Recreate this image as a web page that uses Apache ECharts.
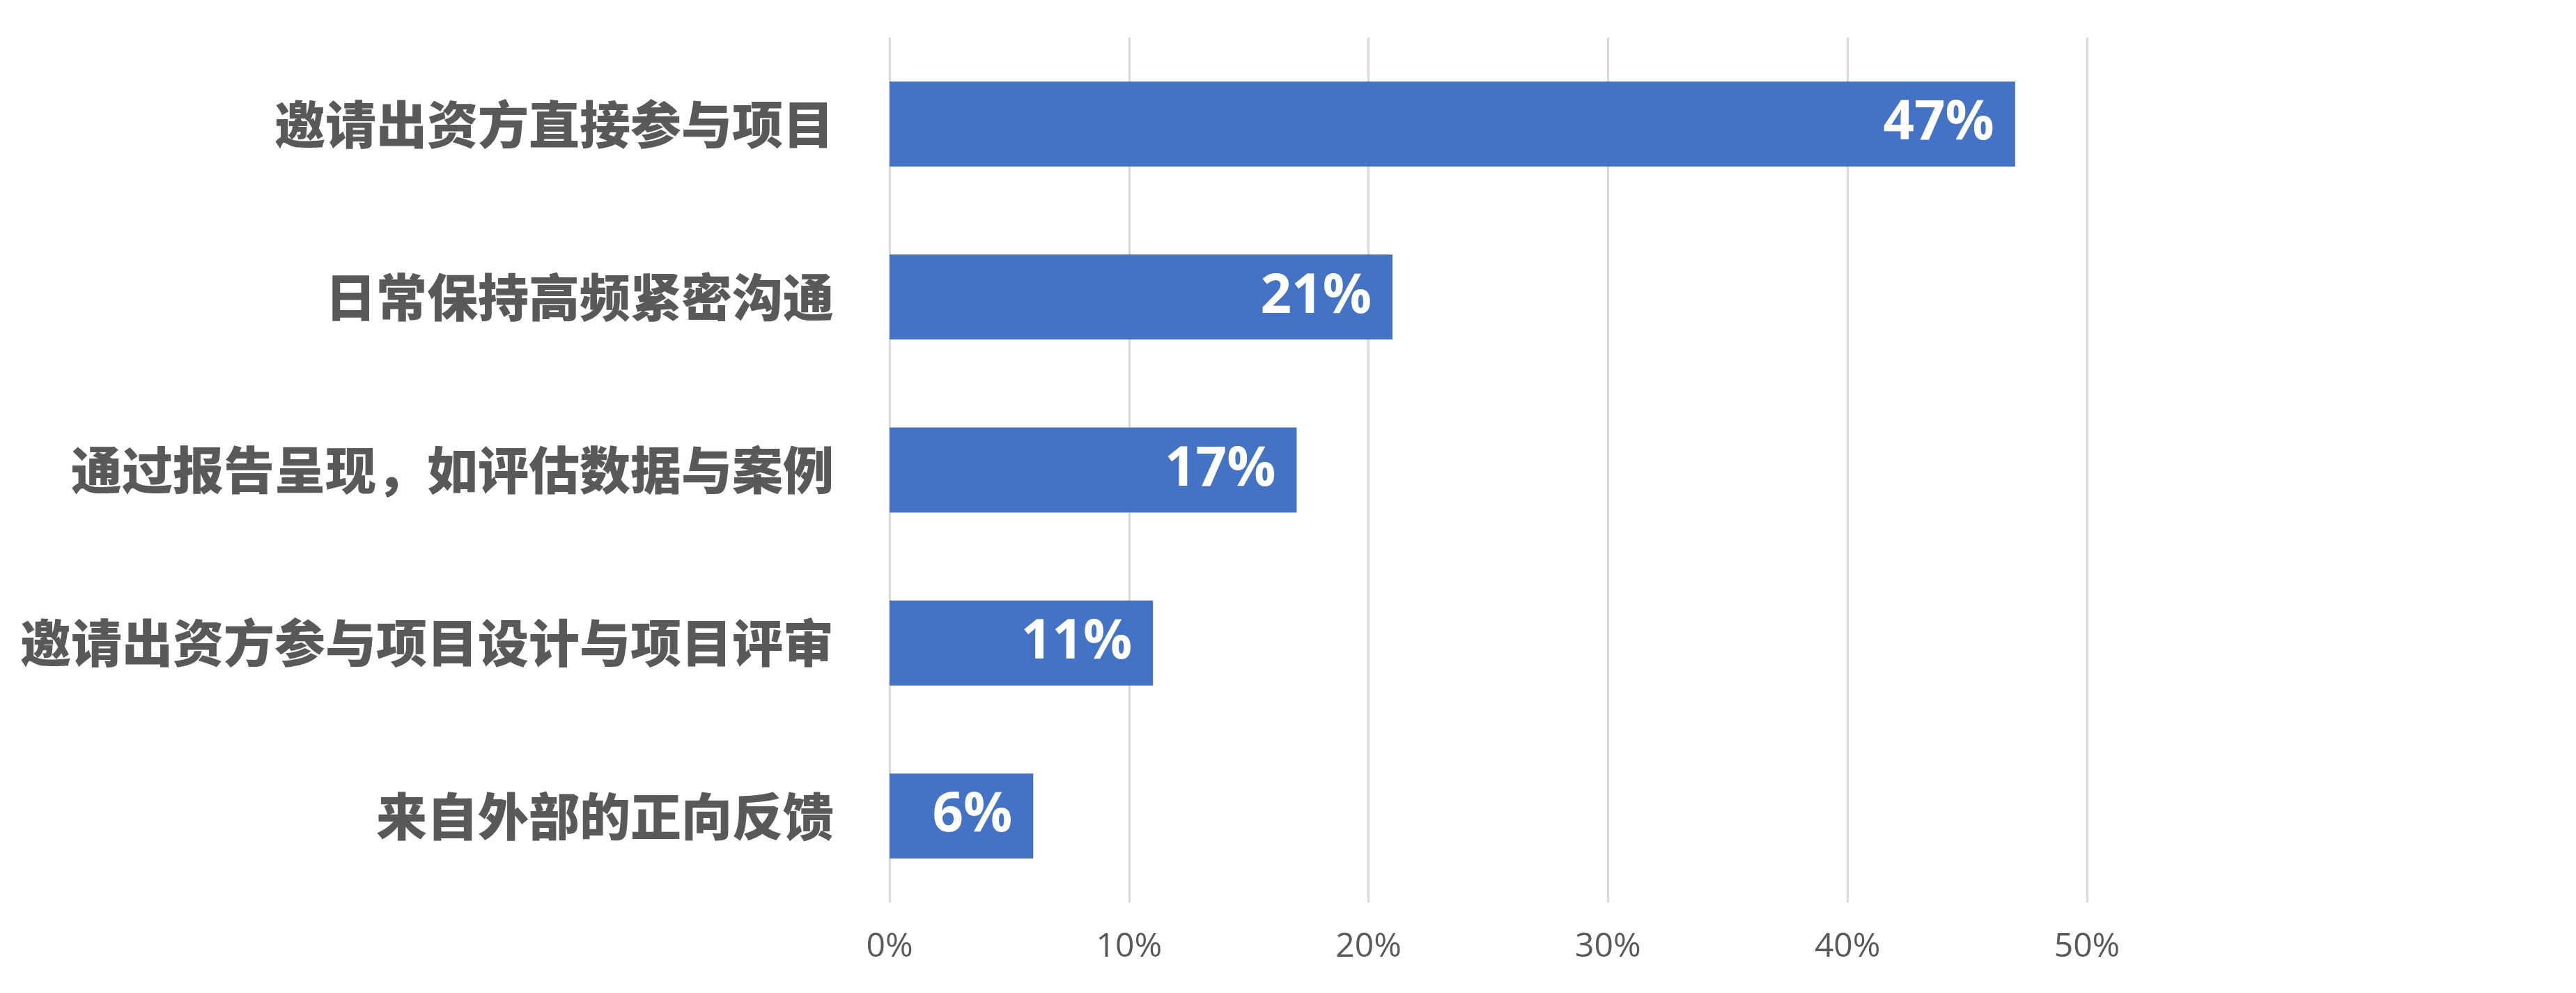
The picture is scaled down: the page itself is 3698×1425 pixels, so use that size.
<!DOCTYPE html>
<html>
<head>
<meta charset="utf-8">
<script src="https://cdn.jsdelivr.net/npm/echarts@6/dist/echarts.min.js"></script>
<style>
html,body{margin:0;padding:0;background:#fff;}
#chart{width:3698px;height:1425px;}
</style>
</head>
<body>
<div id="chart"></div>
<script>
const categories = [
  '邀请出资方直接参与项目',
  '日常保持高频紧密沟通',
  '通过报告呈现，如评估数据与案例',
  '邀请出资方参与项目设计与项目评审',
  '来自外部的正向反馈'
];
const values = [47, 21, 17, 11, 6];
const axisMin = 0;
const axisMax = 50;
const axisInterval = 10;

const chart = echarts.init(document.getElementById('chart'), null, {renderer: 'canvas'});
chart.setOption({
  animation: false,
  backgroundColor: '#ffffff',
  grid: {left: 1277, right: 702, top: 54, bottom: 130, containLabel: false},
  xAxis: {
    type: 'value',
    min: axisMin,
    max: axisMax,
    interval: axisInterval,
    axisLine: {show: false},
    axisTick: {show: false},
    splitLine: {show: true, lineStyle: {color: '#d9d9d9', width: 3}},
    axisLabel: {
      formatter: '{value}%',
      color: '#595959',
      fontSize: 48,
      fontFamily: '"Open Sans", "Noto Sans", sans-serif',
      margin: 40
    }
  },
  yAxis: {
    type: 'category',
    data: categories,
    inverse: true,
    axisLine: {show: false},
    axisTick: {show: false},
    splitLine: {show: false},
    axisLabel: {
      color: '#595959',
      fontSize: 73,
      fontWeight: 900,
      fontFamily: '"Noto Sans CJK SC", sans-serif',
      margin: 80
    }
  },
  series: [{
    type: 'bar',
    data: values,
    barWidth: 122,
    itemStyle: {color: '#4472C4'},
    label: {
      show: true,
      position: 'insideRight',
      distance: 30,
      formatter: '{c}%',
      color: '#ffffff',
      fontSize: 78,
      fontWeight: 'bold',
      fontFamily: '"Open Sans", "Noto Sans", sans-serif'
    }
  }]
});
</script>
</body>
</html>
